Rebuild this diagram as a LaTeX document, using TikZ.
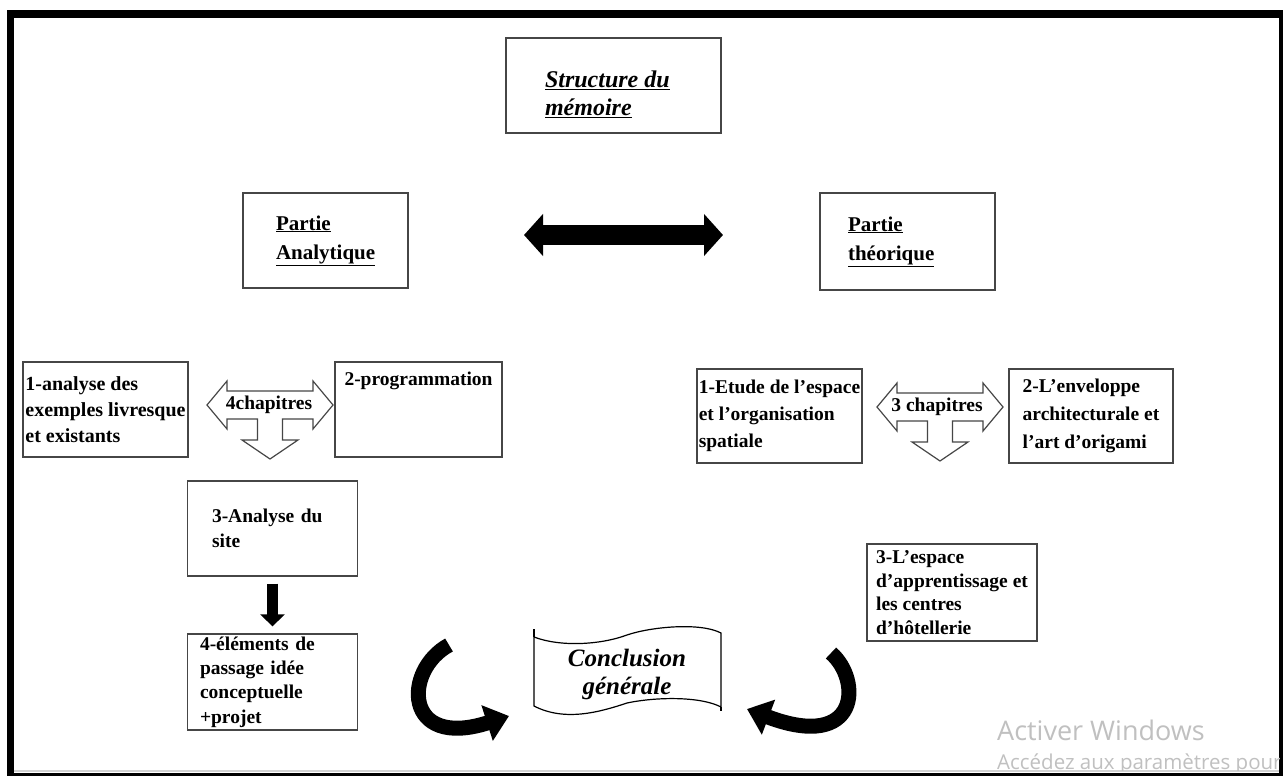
\documentclass[tikz,border=0pt]{standalone}
\usepackage{fontspec}
\setmainfont{Liberation Serif}
\newfontfamily\winfont{Open Sans}
\usetikzlibrary{positioning}
\usetikzlibrary{arrows.meta}

\definecolor{boxgray}{RGB}{70,70,70}
\definecolor{wingray}{RGB}{192,192,192}

\begin{document}
\begin{tikzpicture}[
  x=1pt, y=-1pt,
  tbox/.style = {draw=boxgray, line width=1.3pt, inner sep=0pt, align=left,
                 font=\bfseries\fontsize{19.5pt}{25pt}\selectfont},
  chap/.style = {inner sep=0pt, font=\bfseries\fontsize{19.5pt}{20pt}\selectfont},
  hollow/.style = {draw=boxgray, line width=1.2pt, fill=white},
  fatline/.style = {draw=black, line width=#1},
  tarrow/.pic = {
    \draw[hollow] (-63,0) -- (-43,-24) -- (-43,-14) -- (43,-14) -- (43,-24)
      -- (63,0) -- (43,24) -- (43,14) -- (12.5,14) -- (12.5,35) -- (28,35)
      -- (0,54) -- (-28,35) -- (-12.5,35) -- (-12.5,14) -- (-43,14)
      -- (-43,24) -- cycle;
  },
  >={Triangle[length=19pt,width=41pt]}
]

  \useasboundingbox (0,0) rectangle (1283,776);

  % frame
  \fill[black] (7,10) rectangle (1283,776);
  \fill[white] (14,18) rectangle (1279,773);
  \draw[gray!35, line width=1.5pt] (14,771) -- (1279,771);

  % top
  \node[tbox, minimum width=215pt, minimum height=95pt,
        font=\bfseries\itshape\fontsize{24pt}{28pt}\selectfont]
    (titre) at (613.5,85.5)
    {\parbox[c][95pt][t]{137pt}{\vspace*{33pt}%
      \underline{Structure du}\\\underline{mémoire}}};

  \node[tbox, minimum width=165pt, minimum height=95pt, text width=99pt,
        font=\bfseries\fontsize{21pt}{29pt}\selectfont]
    (ana) at (325.5,240.5) {\underline{Partie}\\\underline{Analytique}};
  \node[tbox, minimum width=175pt, minimum height=97pt, text width=119pt,
        font=\bfseries\fontsize{21pt}{29pt}\selectfont]
    (theo) at (907.5,241.5) {\underline{Partie}\\\underline{théorique}};

  \coordinate (dl) at (524,235);
  \coordinate (dr) at (723,235);
  \draw[<->, line width=20pt] (dl) -- (dr);

  % partie analytique
  \node[tbox, minimum width=165pt, minimum height=95pt,
        font=\bfseries\fontsize{20pt}{26pt}\selectfont]
    (an1) at (105.5,409.5) {1-analyse des\\exemples livresque\\et existants};
  \node[tbox, minimum width=167pt, minimum height=95pt]
    (prog) at (418.5,409.5)
    {\parbox[c][76pt][t]{148pt}{\mbox{2-programmation}}};
  \pic at (270,405) {tarrow};
  \node[chap] (chapL) at (269,405) {4chapitres};

  \node[tbox, minimum width=170pt, minimum height=95pt, text width=121pt]
    (site) at (272.5,528.5) {3-Analyse du\\site};
  \node[tbox, minimum width=170pt, minimum height=96pt, text width=145pt,
        font=\bfseries\fontsize{19.5pt}{24.3pt}\selectfont]
    (elem) at (272.5,682) {4-éléments de\\passage idée\\conceptuelle\\+projet};
  \draw[fatline=11pt, -{Triangle[length=12pt,width=24pt]},
        shorten <=7pt, shorten >=7pt] (site) -- (elem);

  % partie theorique
  \node[tbox, minimum width=165pt, minimum height=94pt,
        font=\bfseries\fontsize{19.5pt}{27pt}\selectfont]
    (et1) at (779.5,416) {1-Etude de l’espace\\et l’organisation\\spatiale};
  \node[tbox, minimum width=164pt, minimum height=94pt,
        font=\bfseries\fontsize{19.5pt}{28pt}\selectfont]
    (env) at (1091,416) {2-L’enveloppe\\architecturale et\\l’art d’origami};
  \pic at (940,407) {tarrow};
  \node[chap] (chapR) at (937,407) {3 chapitres};

  \node[tbox, minimum width=170pt, minimum height=97pt,
        font=\bfseries\fontsize{19.5pt}{23.7pt}\selectfont]
    (esp) at (952,592.5) {3-L’espace\\d’apprentissage et\\les centres\\d’hôtellerie};

  % conclusion
  \draw[line width=1.2pt, fill=white]
    (534,637) .. controls (560,647) and (600,645) .. (627,635)
    .. controls (650,627) and (700,622) .. (721,633) -- (721,707)
    .. controls (700,696) and (655,697) .. (627,703)
    .. controls (600,712) and (565,722) .. (534,706) -- cycle;
  \draw[line width=1.2pt] (534,629) -- (534,637) (721,707) -- (721,711);
  \node[font=\bfseries\itshape\fontsize{25pt}{28pt}\selectfont, align=center,
        inner sep=0pt] (concl) at (627,674) {Conclusion\\générale};

  \coordinate (ga) at (449,645);
  \coordinate (gb) at (509,716);
  \draw[fatline=15pt, -{Triangle[length=23pt,width=36pt]}]
    (ga) .. controls (403,670) and (403,750) .. (gb);
  \coordinate (da) at (831,653);
  \coordinate (db) at (747,709);
  \draw[fatline=15pt, -{Triangle[length=23pt,width=36pt]}]
    (da) .. controls (862,680) and (860,752) .. (db);

  % watermark
  \begin{scope}
    \clip (14,18) rectangle (1279,770);
    \node[anchor=west, inner sep=0pt, text=wingray,
          font=\winfont\fontsize{27pt}{27pt}\selectfont]
      (win) at (997,730) {Activer Windows};
    \node[anchor=west, inner sep=0pt, text=wingray,
          font=\winfont\fontsize{20.5pt}{20pt}\selectfont]
      (winsub) at (997,764) {Accédez aux paramètres pour};
  \end{scope}

\end{tikzpicture}
\end{document}
